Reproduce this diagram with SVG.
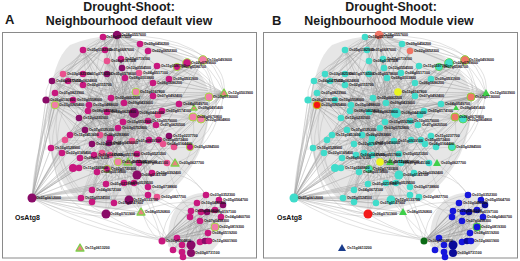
<svg xmlns="http://www.w3.org/2000/svg" xmlns:xlink="http://www.w3.org/1999/xlink" width="520" height="261" viewBox="0 0 520 261">
<style>
.ttl{font-family:"Liberation Sans",Arial,sans-serif;font-weight:bold;font-size:12.4px;fill:#1a1a1a;text-anchor:middle}
.let{font-family:"Liberation Sans",Arial,sans-serif;font-weight:bold;font-size:13px;fill:#1a1a1a}
.box{fill:#fff;stroke:#8a8a8a;stroke-width:1}
.e{fill:none;stroke:#959595;stroke-width:0.3;stroke-opacity:0.8}
.arc{fill:none;stroke:#b4b4b4;stroke-width:0.4}
.haze{fill:#c4c4c4;opacity:0.42}
.lb{font-family:"Liberation Sans",Arial,sans-serif;font-weight:bold;font-size:3.6px;fill:#111}
.big{font-family:"Liberation Sans",Arial,sans-serif;font-weight:bold;font-size:7px;fill:#111}
.m{fill:#c8177f}.p{fill:#e9508e}.d{fill:#8a0b68}
.mr{fill:#c8177f;stroke:#a6d845;stroke-width:1}
.lr{fill:#f27ca8;stroke:#a6d845;stroke-width:1}
.ta{fill:#e8827e;stroke:#7fcf4c;stroke-width:1.3;stroke-linejoin:round}
.c{fill:#40dccb}.cr{fill:#40dccb;stroke:#5bd65b;stroke-width:1}
.s{fill:#f07566}.sr{fill:#f07566;stroke:#8ccf3c;stroke-width:1}
.y{fill:#eaf51e}.rd{fill:#f51414;stroke:#c9b80e;stroke-width:1}.rd2{fill:#f31a1a}
.tb{fill:#3fcf4a}.bl{fill:#1616dc}.bd{fill:#0b0b9a}
.br{fill:#1616dc;stroke:#4fcf3f;stroke-width:1}.dg{fill:#0b6b14}.tn{fill:#1a3c8c}
</style>
<defs>
<g id="edgesA">
<path class="haze" d="M70,45 Q110,28 150,44 Q205,58 210,100 Q210,160 162,200 Q115,218 80,202 Q44,172 48,112 Q52,60 70,45Z"/>
<path class="haze" d="M185,198 Q210,185 226,205 Q230,236 210,252 Q185,262 168,246 Q166,214 185,198Z"/>
<path class="e" d="M103,37 L153,83 L55,105 L148,121 L83,50 L134,113 L46,100 L169,79 L92,144 L140,44 L79,118 L187,63 L70,135 L122,68 L162,111 L63,74 L174,147 L107,61 L118,162 L52,81 L159,140 L117,35 L97,172 L157,66 L85,130 L203,60 L124,103 L51,148 L139,73 L148,187 L83,74 L193,117 L68,81 L137,175 L125,78 L81,198 L153,96 L110,155 L88,111 L179,104 L62,153 L121,59 L129,200 L107,74 L167,163 L55,93 L132,141 L105,50 L106,184 L136,92 L73,100 L209,97 L100,135 L148,51 L92,190 L111,98 L224,93 L65,140 L163,144 L83,85 L157,197 L89,105 L152,173 L123,122 L80,158 L177,67 L109,143 L94,155 L201,119 L107,112 L114,203 L118,128 L139,163 L149,140 L128,162 L102,153 L190,147 L156,125 L73,168 L158,115 L92,202 L134,183 L79,168 L169,136 L107,169 L148,195 L106,214 L124,183 L141,212"/>
<path class="e" d="M117,35 L55,93 L162,111 L92,190 L140,44 L107,112 L174,147 L63,74 L137,154 L46,100 L201,119 L83,50 L129,200 L153,83 L70,135 L187,63 L94,155 L111,98 L157,197 L68,81 L124,103 L103,37 L134,183 L89,105 L148,121 L52,81 L167,163 L122,68 L79,118 L209,97 L81,198 L136,92 L51,148 L157,66 L106,214 L107,61 L190,147 L73,100 L159,140 L121,59 L97,172 L153,96 L85,130 L177,67 L118,128 L224,93 L62,153 L139,73 L114,203 L55,105 L163,144 L105,50 L152,173 L88,111 L179,104 L80,158 L125,78 L148,187 L65,140 L203,60 L132,141 L107,74 L137,175 L83,85 L169,79 L102,153 L193,117 L92,144 L148,51 L110,155 L83,74 L158,115 L73,168 L123,122 L141,212 L109,143 L118,162 L156,125 L106,184 L169,136 L79,168 L100,135 L148,195 L92,202 L128,162 L107,169 L149,140 L124,183 L139,163"/>
<path class="e" d="M107,61 L148,140 L63,74 L156,125 L83,85 L179,104 L46,100 L137,154 L121,59 L92,202 L157,66 L70,135 L203,60 L118,128 L52,81 L163,144 L117,35 L106,184 L136,92 L65,140 L169,79 L97,172 L83,50 L152,173 L55,105 L124,183 L148,51 L81,198 L187,63 L110,155 L68,81 L158,115 L103,37 L89,105 L193,117 L51,148 L139,73 L129,200 L88,111 L174,147 L125,78 L62,153 L209,97 L100,135 L153,83 L114,203 L73,100 L167,163 L107,74 L80,158 L177,67 L132,141 L55,93 L148,187 L111,98 L79,168 L162,111 L92,190 L140,44 L123,122 L224,93 L134,183 L85,130 L157,197"/>
<path class="e" d="M134,113 L55,105 L134,113 L83,50 L134,113 L46,100 L134,113 L103,37 L134,113 L187,63 L134,113 L224,93 L134,113 L209,97 L134,113 L62,153 L134,113 L92,190 L134,113 L148,187 L134,113 L70,135 L134,113 L52,81 L134,113 L157,66 L134,113 L117,35 L134,113 L175,163 L134,113 L81,198 M137,175 L46,100 L137,175 L55,93 L137,175 L83,50 L137,175 L117,35 L137,175 L153,83 L137,175 L203,60 L137,175 L209,97 L137,175 L51,148 L137,175 L73,100 L137,175 L107,61 L137,175 L224,93 L137,175 L193,117 M224,93 L177,67 L224,93 L153,83 L224,93 L169,79 L224,93 L179,104 L224,93 L162,111 L224,93 L148,121 L224,93 L124,103 L224,93 L136,92 L224,93 L157,66 L224,93 L193,117 L224,93 L201,119 L224,93 L190,147 L224,93 L163,144 M117,35 L83,50 L117,35 L63,74 L117,35 L52,81 L117,35 L46,100 L117,35 L55,105 L117,35 L79,118 L117,35 L124,103 L117,35 L153,96 L117,35 L157,66 L117,35 L187,63 L117,35 L203,60 L117,35 L111,98 L117,35 L85,130"/>
<path class="e" d="M32,198 L46,100 L32,198 L52,81 L32,198 L55,93 L32,198 L55,105 L32,198 L63,74 L32,198 L70,135 L32,198 L65,140 L32,198 L51,148 L32,198 L62,153 L32,198 L73,168 L32,198 L79,168 L32,198 L80,158 L32,198 L85,130 L32,198 L79,118 L32,198 L92,144 L32,198 L97,172 L32,198 L92,190 L32,198 L81,198 L32,198 L92,202 L32,198 L106,184 L32,198 L114,203 L32,198 L106,214 L32,198 L124,183 L32,198 L129,200 L32,198 L137,175 L32,198 L148,195 L32,198 L141,212 L32,198 L94,155 L32,198 L102,153 L32,198 L88,111"/>
<path class="arc" d="M83,50 Q40,100 51,148 M103,37 Q35,90 46,150 M103,37 Q30,120 62,190 M117,35 Q20,130 81,198 M83,50 Q25,140 92,202 M140,44 Q40,60 46,100 M83,50 Q110,25 140,44 M63,74 Q90,30 148,51 M52,81 Q100,20 187,63 M46,100 Q110,10 203,60 M140,44 Q200,40 224,93 M117,35 Q215,35 224,93 M148,51 Q220,55 209,97 M157,66 Q235,70 201,119 M103,37 Q230,40 224,93 M187,63 Q240,95 201,119 M203,60 Q235,120 190,147 M224,93 Q215,150 175,163 M209,97 Q210,160 157,197 M193,117 Q200,170 148,195 M81,198 Q110,225 141,212 M51,148 Q60,215 106,214 M62,153 Q70,205 114,203 M32,198 Q100,240 177,238 M32,198 Q110,232 182,245 M32,198 Q100,215 162,241 M32,198 Q90,225 141,212 M32,198 Q38,130 63,74 M32,198 Q36,120 83,50 M32,198 Q40,140 52,81 M32,198 Q45,110 103,37 M106,214 Q150,240 177,238 M137,175 Q140,230 162,241 M129,200 Q150,225 182,252 M148,195 Q170,210 191,211 M157,197 Q175,205 190,217 M141,212 Q165,200 197,203 M175,163 Q200,185 206,195 M152,173 Q190,170 206,195 M167,163 Q175,195 191,211 M162,241 Q165,200 206,195 M173,250 Q170,205 197,203 M162,241 Q150,200 134,183 M173,250 Q150,205 148,187"/>
<path class="e" d="M162,241 L206,195 L182,245 L219,200 L177,238 L223,205 L191,245 L197,203 L182,252 L215,210 L191,253 L191,211 L200,242 L201,212 L173,250 L207,212 L205,241 L221,217 L183,257 L190,217 L209,241 L200,221 L162,241 L215,227 L177,238 L208,233 L206,195 L191,245 L219,200 L182,252 L223,205 L200,242 L197,203 L209,241 L191,211 L221,217 L173,250 L215,210 L183,257 L201,212 L191,253 L207,212 L182,245 L200,221 L205,241 L215,227 L190,217 L208,233 L191,245 M162,241 L206,195 L162,241 L197,203 L162,241 L219,200 L162,241 L191,211 L162,241 L201,212 L162,241 L215,210 L162,241 L190,217 L162,241 L200,221 L162,241 L215,227 L162,241 L221,217 L162,241 L208,233 L162,241 L223,205 L162,241 L207,212"/>
</g>
<g id="labelsA" class="lb">
<text x="106" y="38">Os10g0577600</text><text x="121" y="36">Os08g0557600</text><text x="144" y="45">Os09g0456200</text><text x="152" y="52">Os02g0652300</text>
<text x="87" y="51">Os05g0182900</text><text x="109" y="51">Os01g0687600</text><text x="111" y="62">Os06g0187500</text><text x="125" y="60">Os03g0719100</text>
<text x="126" y="69">Os12g0554500</text><text x="143" y="74">Os04g0517100</text><text x="161" y="67">Os11g0597700</text><text x="181" y="68">Os07g0586700</text>
<text x="191" y="64">Os02g0789600</text><text x="207" y="61">Os10g0493600</text><text x="67" y="75">Os03g0825900</text><text x="87" y="75">Os01g0716500</text>
<text x="111" y="75">Os05g0578600</text><text x="129" y="79">Os08g0103800</text><text x="157" y="84">Os06g0686200</text><text x="173" y="80">Os09g0531900</text>
<text x="56" y="82">Os04g0477300</text><text x="72" y="82">Os12g0624800</text><text x="87" y="86">Os02g0115700</text><text x="140" y="93">Os11g0167800</text>
<text x="157" y="97">Os07g0492400</text><text x="59" y="94">Os01g0823900</text><text x="50" y="101">Os06g0136900</text><text x="59" y="106">Os03g0265400</text>
<text x="77" y="101">Os10g0558000</text><text x="93" y="106">Os05g0488600</text><text x="92" y="112">Os08g0462400</text><text x="115" y="99">Os02g0662200</text>
<text x="128" y="104">Os09g0433600</text><text x="111" y="113">Os04g0629800</text><text x="83" y="119">Os12g0230100</text><text x="127" y="123">Os01g0592900</text>
<text x="122" y="129">Os03g0752800</text><text x="89" y="131">Os07g0129300</text><text x="74" y="136">Os11g0453600</text><text x="104" y="136">Os06g0283800</text>
<text x="96" y="145">Os02g0766700</text><text x="113" y="144">Os05g0456000</text><text x="139" y="114">Os08g0441600</text><text x="152" y="122">Os10g0579000</text>
<text x="166" y="112">Os01g0174100</text><text x="183" y="105">Os04g0549700</text><text x="198" y="109">Os09g0491400</text><text x="213" y="98">Os03g0136000</text>
<text x="228" y="94">Os12g0503900</text><text x="197" y="118">Os06g0670800</text><text x="205" y="121">Os02g0804800</text><text x="160" y="126">Os07g0620500</text>
<text x="173" y="137">Os11g0237700</text><text x="163" y="141">Os05g0573400</text><text x="136" y="142">Os01g0939100</text><text x="167" y="145">Os08g0164400</text>
<text x="194" y="148">Os03g0284500</text><text x="55" y="149">Os10g0528900</text><text x="66" y="154">Os02g0169400</text><text x="84" y="159">Os06g0676300</text>
<text x="98" y="156">Os04g0487200</text><text x="114" y="156">Os09g0517800</text><text x="122" y="163">Os01g0711200</text><text x="132" y="163">Os12g0596000</text>
<text x="141" y="155">Os05g0521200</text><text x="143" y="164">Os07g0645100</text><text x="179" y="164">Os03g0627700</text><text x="83" y="169">Os11g0569800</text>
<text x="101" y="173">Os08g0518900</text><text x="111" y="170">Os02g0730300</text><text x="141" y="176">Os06g0143700</text><text x="156" y="174">Os10g0392400</text>
<text x="96" y="191">Os04g0672100</text><text x="110" y="185">Os01g0218900</text><text x="128" y="184">Os09g0539500</text><text x="152" y="188">Os03g0738800</text>
<text x="85" y="199">Os05g0524500</text><text x="118" y="204">Os07g0147900</text><text x="133" y="201">Os12g0133700</text><text x="161" y="198">Os02g0827700</text>
<text x="110" y="215">Os06g0701900</text><text x="145" y="213">Os08g0526800</text><text x="36" y="199">Os01g0612000</text><text x="85" y="249">Os11g0613200</text>
<text x="210" y="196">Os03g0352300</text><text x="201" y="204">Os10g0480300</text><text x="223" y="201">Os05g0564700</text><text x="195" y="212">Os09g0442600</text>
<text x="211" y="213">Os01g0197100</text><text x="225" y="218">Os04g0460700</text><text x="204" y="222">Os07g0498300</text><text x="219" y="228">Os02g0819300</text>
<text x="212" y="234">Os08g0519200</text><text x="166" y="242">Os06g0264800</text><text x="212" y="242">Os12g0601900</text><text x="195" y="254">Os03g0731100</text>
</g>
</defs>

<text class="ttl" x="129" y="10.5">Drought-Shoot:</text>
<text class="ttl" x="129" y="24.5">Neighbourhood default view</text>
<text class="let" x="5" y="24">A</text>
<text class="ttl" x="391" y="10.5">Drought-Shoot:</text>
<text class="ttl" x="389" y="24.5">Neighbourhood Module view</text>
<text class="let" x="272" y="25">B</text>

<rect class="box" x="2.5" y="32.5" width="254" height="225.5"/>
<rect class="box" x="263.5" y="32.5" width="254" height="225.5"/>

<g id="connectors">
<use xlink:href="#edgesA" href="#edgesA"/>
<use xlink:href="#edgesA" href="#edgesA" x="262"/>
</g>

<g id="nodesA">
<circle id="A1" class="m" cx="103" cy="37" r="3.3"/><circle id="A2" class="d" cx="117" cy="35" r="4.3"/><circle id="A3" class="m" cx="140" cy="44" r="3.3"/><circle id="A4" class="m" cx="148" cy="51" r="3.3"/>
<circle id="A5" class="m" cx="83" cy="50" r="3.3"/><circle id="A6" class="m" cx="105" cy="50" r="3.3"/><circle id="A7" class="p" cx="107" cy="61" r="3.3"/><circle id="A8" class="m" cx="121" cy="59" r="3.3"/>
<circle id="A9" class="d" cx="122" cy="68" r="3.3"/><circle id="A10" class="p" cx="139" cy="73" r="3.3"/><circle id="A11" class="m" cx="157" cy="66" r="3.3"/><circle id="A12" class="mr" cx="177" cy="67" r="3.6"/>
<circle id="A13" class="mr" cx="187" cy="63" r="4.3"/><circle id="A14" class="lr" cx="203" cy="60" r="4.3"/><circle id="A15" class="p" cx="63" cy="74" r="3.3"/><circle id="A16" class="m" cx="83" cy="74" r="3.3"/>
<circle id="A17" class="d" cx="107" cy="74" r="3.3"/><circle id="A18" class="m" cx="125" cy="78" r="3.3"/><circle id="A19" class="m" cx="153" cy="83" r="3.3"/><circle id="A20" class="m" cx="169" cy="79" r="3.3"/>
<circle id="A21" class="d" cx="52" cy="81" r="3.3"/><circle id="A22" class="m" cx="68" cy="81" r="3.3"/><circle id="A23" class="m" cx="83" cy="85" r="3.3"/><circle id="A24" class="lr" cx="136" cy="92" r="3.8"/>
<circle id="A25" class="m" cx="153" cy="96" r="3.3"/><circle id="A26" class="m" cx="55" cy="93" r="3.3"/><circle id="A27" class="d" cx="46" cy="100" r="3.6"/><circle id="A28" class="lr" cx="55" cy="105" r="3.8"/>
<circle id="A29" class="m" cx="73" cy="100" r="3.3"/><circle id="A30" class="m" cx="89" cy="105" r="3.3"/><circle id="A31" class="m" cx="88" cy="111" r="3.3"/><circle id="A32" class="m" cx="111" cy="98" r="3.3"/>
<circle id="A33" class="m" cx="124" cy="103" r="3.3"/><circle id="A34" class="m" cx="107" cy="112" r="3.3"/><circle id="A35" class="d" cx="79" cy="118" r="3.3"/><circle id="A36" class="m" cx="123" cy="122" r="3.3"/>
<circle id="A37" class="m" cx="118" cy="128" r="3.3"/><circle id="A38" class="d" cx="85" cy="130" r="3.3"/><circle id="A39" class="m" cx="70" cy="135" r="3.3"/><circle id="A40" class="p" cx="65" cy="140" r="3.3"/>
<circle id="A41" class="p" cx="100" cy="135" r="3.3"/><circle id="A42" class="m" cx="110" cy="138" r="3.3"/><circle id="A43" class="d" cx="92" cy="144" r="3.3"/><circle id="A44" class="d" cx="109" cy="143" r="3.3"/>
<circle id="A45" class="d" cx="134" cy="113" r="5"/><circle id="A46" class="m" cx="148" cy="121" r="3.3"/><circle id="A47" class="p" cx="158" cy="115" r="3.3"/><circle id="A48" class="m" cx="162" cy="111" r="3.3"/>
<circle id="A49" class="m" cx="179" cy="104" r="3.3"/><polygon id="A50" class="ta" points="194,105 197,110 191,110"/><circle id="A51" class="lr" cx="209" cy="97" r="4"/><polygon id="A52" class="ta" points="224,89 228,96 220,96"/>
<circle id="A53" class="lr" cx="193" cy="117" r="4"/><circle id="A54" class="lr" cx="201" cy="119" r="4"/><circle id="A55" class="m" cx="156" cy="125" r="3.3"/><circle id="A56" class="d" cx="169" cy="136" r="3.3"/>
<circle id="A57" class="m" cx="159" cy="140" r="3.3"/><circle id="A58" class="m" cx="149" cy="140" r="3.3"/><circle id="A59" class="p" cx="132" cy="141" r="3.3"/><circle id="A60" class="p" cx="163" cy="144" r="3.3"/>
<circle id="A61" class="p" cx="174" cy="147" r="3.3"/><circle id="A62" class="mr" cx="190" cy="147" r="3.6"/><circle id="A63" class="m" cx="51" cy="148" r="3.3"/><circle id="A64" class="m" cx="62" cy="153" r="3.3"/>
<circle id="A65" class="m" cx="80" cy="158" r="3.3"/><circle id="A66" class="m" cx="94" cy="155" r="3.3"/><circle id="A67" class="p" cx="102" cy="153" r="3.3"/><circle id="A68" class="p" cx="110" cy="155" r="3.3"/>
<circle id="A69" class="lr" cx="118" cy="162" r="3.8"/><polygon id="A70" class="ta" points="128,158 132,165 124,165"/><circle id="A71" class="m" cx="137" cy="154" r="3.3"/><circle id="A72" class="m" cx="139" cy="163" r="3.3"/>
<circle id="A73" class="p" cx="167" cy="163" r="3.3"/><polygon id="A74" class="ta" points="175,159 179,166 171,166"/><circle id="A75" class="m" cx="73" cy="168" r="4"/><circle id="A76" class="m" cx="79" cy="168" r="3.3"/>
<circle id="A77" class="m" cx="97" cy="172" r="3.3"/><circle id="A78" class="mr" cx="107" cy="169" r="3.5"/><circle id="A79" class="d" cx="137" cy="175" r="4.5"/><circle id="A80" class="m" cx="152" cy="173" r="3.3"/>
<circle id="A81" class="m" cx="92" cy="190" r="3.3"/><circle id="A82" class="m" cx="106" cy="184" r="3.3"/><circle id="A83" class="m" cx="124" cy="183" r="3.3"/><circle id="A84" class="m" cx="134" cy="183" r="3.3"/>
<circle id="A85" class="m" cx="148" cy="187" r="3.3"/><circle id="A86" class="m" cx="81" cy="198" r="3.3"/><circle id="A87" class="m" cx="92" cy="202" r="3.3"/><circle id="A88" class="m" cx="114" cy="203" r="3.3"/>
<circle id="A89" class="d" cx="129" cy="200" r="4.5"/><circle id="A90" class="m" cx="148" cy="195" r="3.3"/><circle id="A91" class="p" cx="157" cy="197" r="3.3"/><circle id="A92" class="d" cx="106" cy="214" r="4.5"/>
<polygon id="A93" class="ta" points="141,208 145,215 137,215"/><circle id="A94" class="d" cx="32" cy="198" r="4.5"/><polygon id="A95" class="ta" points="80,244 84,251 76,251"/>
<circle id="As1" class="m" cx="162" cy="241" r="3.5"/><circle id="As2" class="m" cx="206" cy="195" r="3.3"/><circle id="As3" class="m" cx="197" cy="203" r="3.3"/><circle id="As4" class="m" cx="219" cy="200" r="3.3"/>
<circle id="As5" class="d" cx="223" cy="205" r="3.3"/><circle id="As6" class="m" cx="215" cy="210" r="3.3"/><circle id="As7" class="m" cx="191" cy="211" r="3.3"/><circle id="As8" class="m" cx="201" cy="212" r="3.3"/>
<circle id="As9" class="d" cx="207" cy="212" r="3.3"/><circle id="As10" class="m" cx="221" cy="217" r="3.3"/><circle id="As11" class="m" cx="190" cy="217" r="3.3"/><circle id="As12" class="m" cx="200" cy="221" r="3.3"/>
<circle id="As13" class="lr" cx="215" cy="227" r="4"/><circle id="As14" class="m" cx="208" cy="233" r="3.3"/><circle id="As15" class="m" cx="177" cy="238" r="3.3"/><circle id="As16" class="m" cx="182" cy="245" r="3.3"/>
<circle id="As17" class="d" cx="191" cy="245" r="4.5"/><circle id="As18" class="m" cx="200" cy="242" r="3.3"/><circle id="As19" class="d" cx="205" cy="241" r="3.3"/><circle id="As20" class="m" cx="209" cy="241" r="3.3"/>
<circle id="As21" class="m" cx="182" cy="252" r="3.3"/><circle id="As22" class="d" cx="191" cy="253" r="4"/><circle id="As23" class="m" cx="173" cy="250" r="3.3"/><circle id="As24" class="m" cx="183" cy="257" r="3.3"/>
</g>

<g id="nodesB" transform="translate(262,0)">
<circle id="B1" class="c" cx="103" cy="37" r="3.3"/><circle id="B2" class="s" cx="117" cy="35" r="4.3"/><circle id="B3" class="c" cx="140" cy="44" r="3.3"/><circle id="B4" class="s" cx="148" cy="51" r="3.3"/>
<circle id="B5" class="c" cx="83" cy="50" r="3.3"/><circle id="B6" class="c" cx="105" cy="50" r="3.3"/><circle id="B7" class="c" cx="107" cy="61" r="3.3"/><circle id="B8" class="c" cx="121" cy="59" r="3.3"/>
<circle id="B9" class="c" cx="122" cy="68" r="3.3"/><circle id="B10" class="c" cx="139" cy="73" r="3.3"/><circle id="B11" class="c" cx="157" cy="66" r="3.3"/><circle id="B12" class="cr" cx="177" cy="67" r="3.6"/>
<circle id="B13" class="cr" cx="187" cy="63" r="4.3"/><circle id="B14" class="sr" cx="203" cy="60" r="4.3"/><circle id="B15" class="c" cx="63" cy="74" r="3.3"/><circle id="B16" class="c" cx="83" cy="74" r="3.3"/>
<circle id="B17" class="c" cx="107" cy="74" r="3.3"/><circle id="B18" class="c" cx="125" cy="78" r="3.3"/><circle id="B19" class="c" cx="153" cy="83" r="3.3"/><circle id="B20" class="c" cx="169" cy="79" r="3.3"/>
<circle id="B21" class="c" cx="52" cy="81" r="3.3"/><circle id="B22" class="c" cx="68" cy="81" r="3.3"/><circle id="B23" class="c" cx="83" cy="85" r="3.3"/><circle id="B24" class="y" cx="136" cy="92" r="3.8"/>
<circle id="B25" class="c" cx="153" cy="96" r="3.3"/><circle id="B26" class="c" cx="55" cy="93" r="3.3"/><circle id="B27" class="c" cx="46" cy="100" r="3.6"/><circle id="B28" class="rd" cx="55" cy="105" r="3.8"/>
<circle id="B29" class="c" cx="73" cy="100" r="3.3"/><circle id="B30" class="c" cx="89" cy="105" r="3.3"/><circle id="B31" class="c" cx="88" cy="111" r="3.3"/><circle id="B32" class="c" cx="111" cy="98" r="3.3"/>
<circle id="B33" class="c" cx="124" cy="103" r="3.3"/><circle id="B34" class="c" cx="107" cy="112" r="3.3"/><circle id="B35" class="c" cx="79" cy="118" r="3.3"/><circle id="B36" class="c" cx="123" cy="122" r="3.3"/>
<circle id="B37" class="c" cx="118" cy="128" r="3.3"/><circle id="B38" class="c" cx="85" cy="130" r="3.3"/><circle id="B39" class="c" cx="70" cy="135" r="3.3"/><circle id="B40" class="c" cx="65" cy="140" r="3.3"/>
<circle id="B41" class="c" cx="100" cy="135" r="3.3"/><circle id="B42" class="c" cx="110" cy="138" r="3.3"/><circle id="B43" class="c" cx="92" cy="144" r="3.3"/><circle id="B44" class="c" cx="109" cy="143" r="3.3"/>
<circle id="B45" class="c" cx="134" cy="113" r="5"/><circle id="B46" class="c" cx="148" cy="121" r="3.3"/><circle id="B47" class="c" cx="158" cy="115" r="3.3"/><circle id="B48" class="c" cx="162" cy="111" r="3.3"/>
<circle id="B49" class="c" cx="179" cy="104" r="3.3"/><polygon id="B50" class="tb" points="194,105 197,110 191,110"/><circle id="B51" class="sr" cx="209" cy="97" r="4"/><polygon id="B52" class="tb" points="224,89 228,96 220,96"/>
<circle id="B53" class="sr" cx="193" cy="117" r="4"/><circle id="B54" class="cr" cx="201" cy="119" r="4"/><circle id="B55" class="c" cx="156" cy="125" r="3.3"/><circle id="B56" class="c" cx="169" cy="136" r="3.3"/>
<circle id="B57" class="c" cx="159" cy="140" r="3.3"/><circle id="B58" class="c" cx="149" cy="140" r="3.3"/><circle id="B59" class="c" cx="132" cy="141" r="3.3"/><circle id="B60" class="c" cx="163" cy="144" r="3.3"/>
<circle id="B61" class="c" cx="174" cy="147" r="3.3"/><circle id="B62" class="cr" cx="190" cy="147" r="3.6"/><circle id="B63" class="c" cx="51" cy="148" r="3.3"/><circle id="B64" class="c" cx="62" cy="153" r="3.3"/>
<circle id="B65" class="c" cx="80" cy="158" r="3.3"/><circle id="B66" class="c" cx="94" cy="155" r="3.3"/><circle id="B67" class="c" cx="102" cy="153" r="3.3"/><circle id="B68" class="c" cx="110" cy="155" r="3.3"/>
<circle id="B69" class="y" cx="118" cy="162" r="3.8"/><polygon id="B70" class="tb" points="128,158 132,165 124,165"/><circle id="B71" class="c" cx="137" cy="154" r="3.3"/><circle id="B72" class="c" cx="139" cy="163" r="3.3"/>
<circle id="B73" class="c" cx="167" cy="163" r="3.3"/><polygon id="B74" class="tb" points="175,159 179,166 171,166"/><circle id="B75" class="c" cx="73" cy="168" r="4"/><circle id="B76" class="c" cx="79" cy="168" r="3.3"/>
<circle id="B77" class="c" cx="97" cy="172" r="3.3"/><circle id="B78" class="cr" cx="107" cy="169" r="3.5"/><circle id="B79" class="c" cx="137" cy="175" r="4.5"/><circle id="B80" class="c" cx="152" cy="173" r="3.3"/>
<circle id="B81" class="c" cx="92" cy="190" r="3.3"/><circle id="B82" class="c" cx="106" cy="184" r="3.3"/><circle id="B83" class="c" cx="124" cy="183" r="3.3"/><circle id="B84" class="c" cx="134" cy="183" r="3.3"/>
<circle id="B85" class="c" cx="148" cy="187" r="3.3"/><circle id="B86" class="c" cx="81" cy="198" r="3.3"/><circle id="B87" class="c" cx="92" cy="202" r="3.3"/><circle id="B88" class="c" cx="114" cy="203" r="3.3"/>
<circle id="B89" class="c" cx="129" cy="200" r="4.5"/><circle id="B90" class="c" cx="148" cy="195" r="3.3"/><circle id="B91" class="c" cx="157" cy="197" r="3.3"/><circle id="B92" class="rd2" cx="106" cy="214" r="4.5"/>
<polygon id="B93" class="tb" points="141,208 145,215 137,215"/><circle id="B94" class="c" cx="32" cy="198" r="4.5"/><polygon id="B95" class="tn" points="80,244 84,251 76,251"/>
<circle id="Bs1" class="dg" cx="162" cy="241" r="3.5"/><circle id="Bs2" class="bl" cx="206" cy="195" r="3.3"/><circle id="Bs3" class="bl" cx="197" cy="203" r="3.3"/><circle id="Bs4" class="bl" cx="219" cy="200" r="3.3"/>
<circle id="Bs5" class="bd" cx="223" cy="205" r="3.3"/><circle id="Bs6" class="bl" cx="215" cy="210" r="3.3"/><circle id="Bs7" class="bl" cx="191" cy="211" r="3.3"/><circle id="Bs8" class="bl" cx="201" cy="212" r="3.3"/>
<circle id="Bs9" class="bd" cx="207" cy="212" r="3.3"/><circle id="Bs10" class="bl" cx="221" cy="217" r="3.3"/><circle id="Bs11" class="bl" cx="190" cy="217" r="3.3"/><circle id="Bs12" class="bl" cx="200" cy="221" r="3.3"/>
<circle id="Bs13" class="br" cx="215" cy="227" r="4"/><circle id="Bs14" class="bl" cx="208" cy="233" r="3.3"/><circle id="Bs15" class="bl" cx="177" cy="238" r="3.3"/><circle id="Bs16" class="bl" cx="182" cy="245" r="3.3"/>
<circle id="Bs17" class="bd" cx="191" cy="245" r="4.5"/><circle id="Bs18" class="bl" cx="200" cy="242" r="3.3"/><circle id="Bs19" class="bd" cx="205" cy="241" r="3.3"/><circle id="Bs20" class="bl" cx="209" cy="241" r="3.3"/>
<circle id="Bs21" class="bl" cx="182" cy="252" r="3.3"/><circle id="Bs22" class="bd" cx="191" cy="253" r="4"/><circle id="Bs23" class="bl" cx="173" cy="250" r="3.3"/><circle id="Bs24" class="bl" cx="183" cy="257" r="3.3"/>
</g>

<g id="labels">
<use xlink:href="#labelsA" href="#labelsA"/>
<use xlink:href="#labelsA" href="#labelsA" x="262"/>
<text class="big" x="15" y="220">OsAtg8</text>
<text class="big" x="277" y="220">OsAtg8</text>
</g>
</svg>
